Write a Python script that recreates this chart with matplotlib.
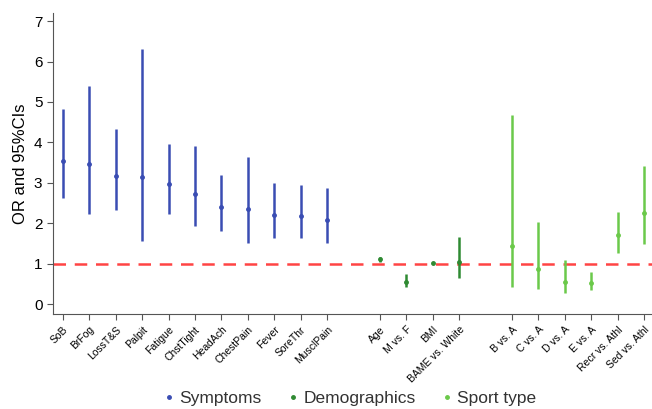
import numpy as np
import matplotlib
matplotlib.use("Agg")
from matplotlib import pyplot as plt
from matplotlib.lines import Line2D

mpl = matplotlib
mpl.rcParams["font.family"] = "sans-serif"
mpl.rcParams["font.sans-serif"] = ["Liberation Sans", "DejaVu Sans"]
mpl.rcParams["text.color"] = "333333"

# Data: OR with lower / upper 95% CI
symptom_labels = ["SoB", "BrFog", "LossT&S", "Palpit", "Fatigue", "ChstTight",
                  "HeadAch", "ChestPain", "Fever", "SoreThr", "MusclPain"]
symptom_or = [3.55, 3.47, 3.18, 3.14, 2.97, 2.73, 2.40, 2.34, 2.21, 2.19, 2.09]
symptom_lo = [2.62, 2.23, 2.32, 1.57, 2.23, 1.92, 1.80, 1.51, 1.63, 1.63, 1.50]
symptom_hi = [4.83, 5.40, 4.33, 6.30, 3.95, 3.90, 3.20, 3.63, 3.00, 2.95, 2.88]

demo_labels = ["Age", "M vs. F", "BMI", "BAME vs. White"]
demo_or = [1.12, 0.55, 1.01, 1.03]
demo_lo = [1.05, 0.41, 0.99, 0.64]
demo_hi = [1.17, 0.74, 1.03, 1.67]

sport_labels = ["B vs. A", "C vs. A", "D vs. A", "E vs. A", "Recr vs. Athl", "Sed vs. Athl"]
sport_or = [1.44, 0.86, 0.54, 0.53, 1.70, 2.26]
sport_lo = [0.43, 0.36, 0.27, 0.35, 1.26, 1.49]
sport_hi = [4.67, 2.04, 1.09, 0.79, 2.27, 3.41]

groups = [
    ("Symptoms", "#3a4db3", symptom_labels, symptom_or, symptom_lo, symptom_hi, 0),
    ("Demographics", "#2f8a32", demo_labels, demo_or, demo_lo, demo_hi, 12),
    ("Sport type", "#6bc94a", sport_labels, sport_or, sport_lo, sport_hi, 17),
]

fig = plt.figure(figsize=(6.52, 4.09), dpi=100)
ax = fig.add_axes([0.081, 0.232, 0.919, 0.736])

ticks, ticklabels = [], []
handles = []
for name, color, labels, orv, lo, hi, start in groups:
    x = np.arange(len(labels)) + start
    orv = np.array(orv)
    yerr = [orv - np.array(lo), np.array(hi) - orv]
    ax.errorbar(x, orv, yerr=yerr, fmt="o", color=color, ecolor=color,
                elinewidth=1.8, markersize=2.5, capsize=0)
    ticks.extend(x)
    ticklabels.extend(labels)
    handles.append(Line2D([], [], marker="o", linestyle="none", color=color,
                          markersize=2.5, label=name))

ax.axhline(1, color="#ff4444", linestyle=(0, (5, 3.5)), linewidth=1.8, zorder=0)

ax.set_xlim(-0.38, 22.3)
ax.set_ylim(-0.25, 7.2)
ax.set_yticks(range(0, 8))
ax.set_xticks(ticks)
ax.set_xticklabels(ticklabels, rotation=45, ha="right", rotation_mode="anchor",
                   fontsize=7.5)
ax.tick_params(axis="y", labelsize=11, length=4, color="#555555")
ax.tick_params(axis="x", length=4, color="#555555")
ax.set_ylabel("OR and 95%CIs", fontsize=12)

ax.spines["top"].set_visible(False)
ax.spines["right"].set_visible(False)
ax.spines["left"].set_color("#555555")
ax.spines["bottom"].set_color("#555555")

fig.legend(handles=handles, loc="center", bbox_to_anchor=(0.537, 0.026), ncol=3,
           frameon=False, fontsize=12.5, handletextpad=0.3, columnspacing=1.5,
           handlelength=0.6, borderaxespad=0, borderpad=0)

plt.savefig("out.png", dpi=100)
plt.close()
